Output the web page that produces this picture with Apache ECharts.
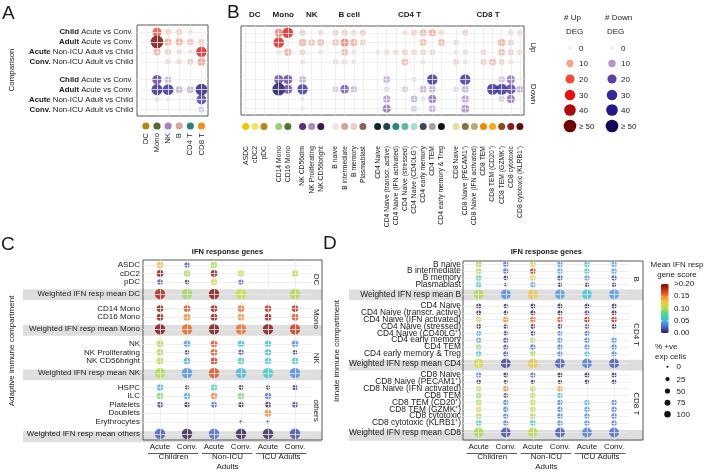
<!DOCTYPE html>
<html><head><meta charset="utf-8">
<script src="https://cdn.jsdelivr.net/npm/echarts@6/dist/echarts.min.js"></script>
<style>html,body{margin:0;padding:0;background:#fff}#c{width:708px;height:472px}</style>
</head><body><div id="c"></div>
<script>
// ---------------- DATA ----------------
// Panel A
const aCellTypes = ['DC','Mono','NK','B','CD4 T','CD8 T'];
const aCellColors = ['#b38a12','#4b6f2c','#a582c4','#d6a79f','#2b8173','#f39112'];
const aRowBold = ['Child','Adult','Acute','Conv.'];
const aRowRest = [' Acute vs Conv.',' Acute vs Conv.',' Non-ICU Adult vs Child',' Non-ICU Adult vs Child'];
const aUp = [
  [0,20,5,5,2,0],
  [0,50,10,10,7,5],
  [0,10,5,3,2,30],
  [0,0,3,3,5,12]];
const aDown = [
  [0,22,7,0,0,0],
  [0,35,32,8,8,42],
  [0,2,1,0,0,25],
  [0,0,0,0,0,5]];
// Panel B
const bGroups = ['DC','Mono','NK','B cell','CD4 T','CD8 T'];
const bCellTypes = ['ASDC','cDC2','pDC','CD14 Mono','CD16 Mono','NK CD56dim','NK Proliferating','NK CD56bright',
  'B naive','B intermediate','B memory','Plasmablast','CD4 Naive','CD4 Naive (transcr. active)','CD4 Naive (IFN activated)',
  'CD4 Naive (stressed)','CD4 Naive (CD40LG\u207A)','CD4 early memory','CD4 TEM','CD4 early memory & Treg','CD8 Naive',
  'CD8 Naive (PECAM1\u207A)','CD8 Naive (IFN activated)','CD8 TEM','CD8 TEM (CD20\u207A)','CD8 TEM (GZMK\u207A)','CD8 cytotoxic','CD8 cytotoxic (KLRB1\u207A)'];
const bGroupOf = [0,0,0,1,1,2,2,2,3,3,3,3,4,4,4,4,4,4,4,4,5,5,5,5,5,5,5,5];
const bCellColors = ['#f6c400','#f7de6a','#b8880e','#9ccf72','#4b7a2e','#5b2b80','#a98ac8','#3b1a4a',
  '#f5e6e6','#d2a39a','#e8cfca','#8f6259','#0f2727','#1d4747','#2a877a','#62b6a6','#a8dfcf','#3f4750','#a2a29b','#111111',
  '#e9dca0','#8b7042','#b9a972','#f08a00','#f7a91a','#8b4a12','#8f1818','#5a0a0a'];
const bUp = [
  [0,0,0,15,30,5,0,3,5,5,3,5,0,0,0,2,5,8,10,3,0,5,0,0,0,0,3,4],
  [0,0,0,30,0,10,7,8,7,15,10,5,0,0,0,0,0,8,0,8,3,0,0,0,0,10,5,0],
  [0,0,0,2,10,5,0,2,0,8,2,0,2,3,3,5,4,4,4,0,2,3,0,4,0,8,5,3],
  [0,0,0,0,0,2,0,0,3,3,2,0,0,0,0,8,0,2,0,0,4,2,0,5,8,4,2,0]];
const bDown = [
  [0,0,0,20,20,8,0,0,0,0,0,0,0,8,0,0,2,0,30,0,0,30,0,0,0,6,15,0],
  [0,0,0,50,20,30,0,0,5,18,7,0,0,3,0,5,0,8,8,0,3,8,0,0,35,35,25,8],
  [0,0,0,0,0,1,0,0,0,0,0,0,0,10,0,0,8,2,15,0,0,10,0,0,0,5,15,0],
  [0,0,0,0,0,1,0,0,0,0,0,0,0,15,0,0,5,0,8,0,0,12,0,0,0,0,0,0]];
const degStrips = ['Up','Down'];
const degLegendValues = [0,10,20,30,40,50];
const degLegendLabels = ['0','10','20','30','40','\u2265 50'];
// Panels C & D
const ifnColumns = ['Acute','Conv.','Acute','Conv.','Acute','Conv.'];
const ifnGroups = ['Children','Non-ICU\nAdults','ICU Adults'];
const cFacets = ['DC','Mono','NK','others'];
const cFacetRows = [['ASDC','cDC2','pDC'],['CD14 Mono','CD16 Mono'],['NK','NK Proliferating','NK CD56bright'],
  ['HSPC','ILC','Platelets','Doublets','Erythrocytes']];
const cWeightedNames = ['DC','Mono','NK','others'];
const cScore = [
  [0.132,0.018,0.100,null,null,null],
  [0.195,0.100,0.195,0.112,null,0.104],
  [0.015,0.003,0.120,0.022,null,null],
  [0.186,0.095,0.197,0.112,null,0.104],
  [0.195,0.168,0.195,0.158,0.182,0.180],
  [0.195,0.150,0.196,0.148,0.195,0.168],
  [0.198,0.160,0.200,0.156,0.198,0.175],
  [0.102,0.038,0.165,0.052,0.058,0.036],
  [0.100,0.006,0.165,0.018,0.054,0.004],
  [0.104,0.045,0.180,0.062,0.058,0.062],
  [0.104,0.038,0.165,0.052,0.060,0.036],
  [0.050,0.003,0.070,0.003,0.003,0.003],
  [0.088,0.045,0.150,0.085,0.028,null],
  [0.012,0.004,0.025,0.004,0.006,0.014],
  [null,null,null,null,0.150,null],
  [null,null,null,0.003,0.003,null],
  [0.020,0.002,0.025,0.002,0.003,0.016]];
const cPct = [
  [85,40,75,null,null,null],
  [85,75,85,75,null,75],
  [45,25,80,40,null,null],
  [100,100,100,100,null,100],
  [85,85,85,85,85,85],
  [85,85,85,85,85,85],
  [100,100,100,100,100,100],
  [85,80,85,80,80,80],
  [85,30,85,45,80,30],
  [85,80,85,80,80,80],
  [100,100,100,100,100,100],
  [75,20,75,30,20,35],
  [80,75,80,80,75,null],
  [50,40,50,40,50,50],
  [null,null,null,null,85,null],
  [null,null,null,5,5,null],
  [100,100,100,100,100,100]];
const dFacets = ['B','CD4 T','CD8 T'];
const dFacetRows = [['B naive','B intermediate','B memory','Plasmablast'],
  ['CD4 Naive','CD4 Naive (transcr. active)','CD4 Naive (IFN activated)','CD4 Naive (stressed)','CD4 Naive (CD40LG\u207A)','CD4 early memory','CD4 TEM','CD4 early memory & Treg'],
  ['CD8 Naive','CD8 Naive (PECAM1\u207A)','CD8 Naive (IFN activated)','CD8 TEM','CD8 TEM (CD20\u207A)','CD8 TEM (GZMK\u207A)','CD8 cytotoxic','CD8 cytotoxic (KLRB1\u207A)']];
const dWeightedNames = ['B','CD4','CD8'];
const dScore = [
  [0.100,0.030,0.125,0.040,0.055,0.045],
  [0.100,0.024,0.175,0.045,0.060,0.040],
  [0.075,0.004,0.125,0.015,0.035,0.015],
  [0.055,0.003,0.045,0.003,0.003,0.003],
  [0.100,0.035,0.130,0.040,0.055,0.040],
  [0.002,0.002,0.002,0.002,0.004,0.002],
  [0.002,0.002,0.002,0.003,0.012,0.002],
  [0.120,0.150,0.160,0.165,0.180,0.180],
  [0.002,0.002,0.002,0.004,0.015,0.002],
  [0.045,0.004,0.004,0.030,0.020,null],
  [0.040,0.015,0.100,0.035,0.030,0.035],
  [0.095,0.016,0.028,0.030,0.035,0.030],
  [0.055,0.016,0.100,0.030,0.054,0.030],
  [0.115,0.012,0.130,0.020,0.030,0.018],
  [0.035,0.003,0.025,0.002,0.002,0.002],
  [0.004,0.002,0.003,0.002,0.002,0.002],
  [0.110,0.150,0.100,0.145,null,null],
  [0.090,0.010,0.100,0.060,null,null],
  [0.100,0.030,0.110,0.030,0.050,0.030],
  [0.125,0.030,0.125,0.030,0.040,0.030],
  [0.100,0.030,0.100,0.030,0.035,0.030],
  [0.070,0.030,0.070,0.035,0.035,0.030],
  [0.100,0.015,0.105,0.018,0.030,0.025]];
const dPct = [
  [70,60,70,65,65,65],
  [70,60,70,65,65,65],
  [65,35,65,55,55,55],
  [60,10,55,30,30,30],
  [100,100,100,100,100,100],
  [45,30,45,45,45,45],
  [45,30,45,45,45,45],
  [65,65,65,65,65,65],
  [40,30,40,40,40,40],
  [50,30,35,45,45,null],
  [55,50,60,55,55,55],
  [60,50,60,55,55,55],
  [60,50,60,55,55,55],
  [100,100,100,100,100,100],
  [55,40,50,45,45,45],
  [35,25,30,30,35,35],
  [65,65,65,65,null,null],
  [60,40,60,55,null,null],
  [65,55,65,60,60,60],
  [65,55,65,60,60,60],
  [65,55,65,60,60,60],
  [65,55,65,60,60,60],
  [100,100,100,100,100,100]];
const ifnTickValues = [0,0.05,0.10,0.15,0.20];
const ifnTickLabels = ['0.00','0.05','0.10','0.15','>0.20'];
const pctLegendValues = [0,25,50,75,100];
const pctLegendLabels = ['0','25','50','75','100'];

// ---------------- STYLE HELPERS ----------------
const FF = "'Liberation Sans', Arial, Helvetica, sans-serif";
const TXT = '#1a1a1a';
const upStops = [[0,'#e4e4e4'],[10,'#f7a28c'],[20,'#f24a34'],[30,'#ec1010'],[40,'#b00a0a'],[50,'#6e0202']];
const downStops = [[0,'#e4e4ea'],[10,'#b592d0'],[20,'#5e3fa6'],[30,'#31299a'],[40,'#22198a'],[50,'#140a5a']];
const ifnStops = [[0,'#2f1540'],[0.0143,'#4145a8'],[0.0286,'#4872e0'],[0.0429,'#47a0ec'],[0.0571,'#38c4d2'],
  [0.0714,'#40d2a8'],[0.0857,'#74d86e'],[0.1,'#a8da44'],[0.1143,'#d2dc3a'],[0.1286,'#f2c43c'],[0.1429,'#f99a30'],
  [0.1571,'#ef651c'],[0.1714,'#d63c12'],[0.1857,'#b01c10'],[0.2,'#7c0a0c']];
function hex2rgb(h){h=h.replace('#','');return [parseInt(h.substr(0,2),16),parseInt(h.substr(2,2),16),parseInt(h.substr(4,2),16)];}
function interp(stops,v){
  if(v<=stops[0][0]) return stops[0][1];
  for(let i=1;i<stops.length;i++){
    if(v<=stops[i][0]){
      const t=(v-stops[i-1][0])/(stops[i][0]-stops[i-1][0]);
      const a=hex2rgb(stops[i-1][1]), b=hex2rgb(stops[i][1]);
      return 'rgb('+a.map((x,k)=>Math.round(x+(b[k]-x)*t)).join(',')+')';
    }
  }
  return stops[stops.length-1][1];
}
const degSize = v => 3 + 9.7*Math.sqrt(Math.min(v,50)/50);
const cSize = (p,w) => w ? 10.5 : 2 + 5.2*Math.sqrt(p/100);
const dSize = (p,w) => w ? 9.8 : 2 + 4.5*Math.sqrt(p/100);

// positions
const degRowPos = [0,1,2,3,4.8,5.8,6.8,7.8];
const bPos = bCellTypes.map((_,i)=> i + bGroupOf[i]*0.62);
const bGroupCenters = bGroups.map((_,g)=>{const p=bPos.filter((_,i)=>bGroupOf[i]===g);return (p[0]+p[p.length-1])/2;});
function facetLayout(facetRows, weightedNames){
  const pos=[],labels=[],weighted=[],centers=[],wpos=[];let p=0;
  facetRows.forEach((rows,fi)=>{
    const start=p;
    rows.forEach(r=>{pos.push(p);labels.push(r);weighted.push(false);p+=1;});
    const w=p-1+1.4; pos.push(w); labels.push('Weighted IFN resp mean '+weightedNames[fi]); weighted.push(true); wpos.push(w);
    centers.push((start+w)/2); p=w+1.7;
  });
  return {pos,labels,weighted,centers,wpos};
}
const cL = facetLayout(cFacetRows,cWeightedNames);
const dL = facetLayout(dFacetRows,dWeightedNames);
function findIdx(arr,v){let b=0,bd=1e9;arr.forEach((p,i)=>{const d=Math.abs(p-v);if(d<bd){bd=d;b=i;}});return b;}

// ---------------- SERIES DATA ----------------
function degData(mat, rowOff, xpos){
  const out=[];
  mat.forEach((row,r)=>row.forEach((v,c)=>{ if(v>0) out.push([xpos(c), degRowPos[rowOff+r], v]); }));
  return out;
}
function ifnData(score,pct,L){
  const out=[];
  score.forEach((row,r)=>row.forEach((s,c)=>{ if(s!==null) out.push([c, L.pos[r], s, pct[r][c], L.weighted[r]?1:0]); }));
  return out;
}
const axBase = {axisLine:{show:false},axisTick:{show:false},splitLine:{show:false},axisLabel:{show:false}};
function ax(o){const a=Object.assign({type:'value'},JSON.parse(JSON.stringify(axBase)),o);
  if(a.axisLabel){a.axisLabel.showMinLabel=true;a.axisLabel.showMaxLabel=true;a.axisLabel.hideOverlap=false;}return a;}
const GL = '#ebebeb';
function gridLineSeries(xi,yi,lines){
  return {type:'scatter',xAxisIndex:xi,yAxisIndex:yi,data:[[0,0]],symbolSize:0,itemStyle:{opacity:0},silent:true,z:1,
    markLine:{silent:true,symbol:['none','none'],label:{show:false},animation:false,lineStyle:{color:GL,width:0.8,type:'solid'},emphasis:{disabled:true},data:lines}};
}
const aX = c=>c;
const aLines=[...aCellTypes.map((_,i)=>({xAxis:i})),...degRowPos.map(p=>({yAxis:p}))];
const bLines=[...bPos.map(p=>({xAxis:p})),...degRowPos.map(p=>({yAxis:p}))];
const C_XMIN=-0.63,C_XMAX=6.0,C_PR=5.63, D_XMIN=-0.58,D_XMAX=6.07,D_PR=5.58;
const cLines=[...ifnColumns.map((_,i)=>({xAxis:i})),...cL.pos.map(p=>[{coord:[C_XMIN,p]},{coord:[C_PR,p]}])];
const dLines=[...ifnColumns.map((_,i)=>({xAxis:i})),...dL.pos.map(p=>[{coord:[D_XMIN,p]},{coord:[D_PR,p]}])];
// D row labels split over two axes (alternate rows) so that ECharts never drops one of the tightly packed labels
const dPosEven = dL.pos.filter((_,i)=>i%2===0), dPosOdd = dL.pos.filter((_,i)=>i%2===1);

const labStyle = {color:TXT,fontFamily:FF};
function dLabelAxis(vals){
  return ax({gridIndex:5,min:-0.47,max:25.7,inverse:true,position:'left',offset:0,z:10,
    axisLabel:Object.assign({show:true,customValues:vals,formatter:v=>dL.labels[findIdx(dL.pos,v)],margin:2,fontSize:8.4},labStyle)});
}
const option = {
  animation:false,
  backgroundColor:'#fff',
  grid:[
    {left:137,top:25,width:71,height:91,show:true,borderColor:'#595959',borderWidth:1,z:5},
    {left:241,top:26,width:283,height:89,show:true,borderColor:'#595959',borderWidth:1,z:5},
    {left:23,top:260,width:299,height:183,show:false},
    {left:143,top:260,width:179,height:183,show:true,borderColor:'#595959',borderWidth:1,z:5},
    {left:349,top:261,width:294,height:182,show:false},
    {left:463,top:261,width:180,height:182,show:true,borderColor:'#595959',borderWidth:1,z:5}
  ],
  xAxis:[
    ax({gridIndex:0,min:-0.8,max:5.59,position:'bottom',axisLabel:Object.assign({show:true,customValues:aCellTypes.map((_,i)=>i),formatter:v=>aCellTypes[Math.round(v)],rotate:90,margin:17,fontSize:7.8},labStyle)}),
    ax({gridIndex:1,min:-0.52,max:30.55,position:'bottom',axisLabel:Object.assign({show:true,customValues:bPos,formatter:v=>bCellTypes[findIdx(bPos,v)],rotate:90,margin:31,fontSize:6.8},labStyle)}),
    ax({gridIndex:1,min:-0.52,max:30.55,position:'top',axisLabel:Object.assign({show:true,customValues:bGroupCenters,formatter:v=>bGroups[findIdx(bGroupCenters,v)],margin:7,fontSize:8,fontWeight:'bold'},labStyle)}),
    ax({gridIndex:2,min:0,max:1}),
    ax({gridIndex:3,min:C_XMIN,max:C_XMAX,position:'bottom',axisLabel:Object.assign({show:true,customValues:[0,1,2,3,4,5],formatter:v=>ifnColumns[Math.round(v)],margin:3,fontSize:8},labStyle)}),
    ax({gridIndex:3,min:C_XMIN,max:C_XMAX,position:'bottom',axisLabel:Object.assign({show:true,customValues:[0.5,2.5,4.5],formatter:v=>ifnGroups[Math.round((v-0.5)/2)],margin:12,fontSize:8,lineHeight:10},labStyle)}),
    ax({gridIndex:4,min:0,max:1}),
    ax({gridIndex:5,min:D_XMIN,max:D_XMAX,position:'bottom',axisLabel:Object.assign({show:true,customValues:[0,1,2,3,4,5],formatter:v=>ifnColumns[Math.round(v)],margin:3,fontSize:8},labStyle)}),
    ax({gridIndex:5,min:D_XMIN,max:D_XMAX,position:'bottom',axisLabel:Object.assign({show:true,customValues:[0.5,2.5,4.5],formatter:v=>ifnGroups[Math.round((v-0.5)/2)],margin:12,fontSize:8,lineHeight:10},labStyle)})
  ],
  yAxis:[
    ax({gridIndex:0,min:-0.7,max:8.45,inverse:true,axisLabel:{show:true,customValues:degRowPos,margin:4,
      formatter:v=>{const r=findIdx(degRowPos,v)%4;return '{b|'+aRowBold[r]+'}{n|'+aRowRest[r]+'}';},
      rich:{b:{fontWeight:'bold',fontSize:7.8,fontFamily:FF,color:TXT},n:{fontSize:7.8,fontFamily:FF,color:TXT}}}}),
    ax({gridIndex:1,min:-0.7,max:8.45,inverse:true}),
    ax({gridIndex:2,min:-0.57,max:20.42,inverse:true}),
    ax({gridIndex:3,min:-0.57,max:20.42,inverse:true,z:10,axisLabel:Object.assign({show:true,customValues:cL.pos,formatter:v=>cL.labels[findIdx(cL.pos,v)],margin:3,fontSize:8},labStyle)}),
    ax({gridIndex:4,min:-0.47,max:25.7,inverse:true}),
    dLabelAxis(dPosEven),
    dLabelAxis(dPosOdd)
  ],
  series:[
    gridLineSeries(0,0,aLines),
    {type:'scatter',xAxisIndex:0,yAxisIndex:0,z:3,data:degData(aUp,0,aX),symbolSize:v=>degSize(v[2]),itemStyle:{color:p=>interp(upStops,p.value[2])},silent:true},
    {type:'scatter',xAxisIndex:0,yAxisIndex:0,z:3,data:degData(aDown,4,aX),symbolSize:v=>degSize(v[2]),itemStyle:{color:p=>interp(downStops,p.value[2])},silent:true},
    gridLineSeries(1,1,bLines),
    {type:'scatter',xAxisIndex:1,yAxisIndex:1,z:3,data:degData(bUp,0,c=>bPos[c]),symbolSize:v=>degSize(v[2]),itemStyle:{color:p=>interp(upStops,p.value[2])},silent:true},
    {type:'scatter',xAxisIndex:1,yAxisIndex:1,z:3,data:degData(bDown,4,c=>bPos[c]),symbolSize:v=>degSize(v[2]),itemStyle:{color:p=>interp(downStops,p.value[2])},silent:true},
    {type:'scatter',xAxisIndex:3,yAxisIndex:2,data:[[0,0]],symbolSize:0,itemStyle:{opacity:0},silent:true,z:2,
      markArea:{silent:true,itemStyle:{color:'#dedede'},label:{show:false},data:cL.wpos.map(p=>[{yAxis:p-0.62},{yAxis:p+0.62}])}},
    gridLineSeries(4,3,cLines),
    {type:'scatter',xAxisIndex:4,yAxisIndex:3,z:3,data:ifnData(cScore,cPct,cL),symbolSize:v=>cSize(v[3],v[4]),itemStyle:{color:p=>interp(ifnStops,p.value[2])},silent:true},
    {type:'scatter',xAxisIndex:6,yAxisIndex:4,data:[[0,0]],symbolSize:0,itemStyle:{opacity:0},silent:true,z:2,
      markArea:{silent:true,itemStyle:{color:'#dedede'},label:{show:false},data:dL.wpos.map(p=>[{yAxis:p-0.78},{yAxis:p+0.78}])}},
    gridLineSeries(7,5,dLines),
    {type:'scatter',xAxisIndex:7,yAxisIndex:5,z:3,data:ifnData(dScore,dPct,dL),symbolSize:v=>dSize(v[3],v[4]),itemStyle:{color:p=>interp(ifnStops,p.value[2])},silent:true}
  ]
};
const chart = echarts.init(document.getElementById('c'),null,{renderer:'canvas',width:708,height:472});
chart.setOption(option);

// ---------------- GRAPHIC (annotations, legends) ----------------
const G=[];
function txt(x,y,text,o){o=o||{};return {type:'text',x:x,y:y,rotation:o.rot||0,z:100,silent:true,
  style:{text:text,fill:o.color||TXT,fontSize:o.size||8,fontFamily:FF,fontWeight:o.weight||'normal',
    align:o.align||'left',verticalAlign:o.va||'middle',lineHeight:o.lh||undefined}};}
function dot(x,y,d,color){return {type:'circle',z:100,silent:true,shape:{cx:x,cy:y,r:d/2},style:{fill:color}};}
function px(gi,x,y){return chart.convertToPixel({gridIndex:gi},[x,y]);}
// panel letters
G.push(txt(2,14,'A',{size:19}),txt(227,13,'B',{size:19}),txt(1,245,'C',{size:19}),txt(323,244,'D',{size:19}));
// axis titles
G.push(txt(12,70,'Comparison',{rot:Math.PI/2,align:'center',size:8}));
G.push(txt(12,351,'Adaptive immune compartment',{rot:Math.PI/2,align:'center',size:8}));
G.push(txt(337,351,'Innate immune compartment',{rot:Math.PI/2,align:'center',size:8}));
// cell type colour dots
aCellTypes.forEach((_,i)=>{const p=px(0,i,0);G.push(dot(p[0],126,7.2,aCellColors[i]));});
bCellTypes.forEach((_,i)=>{const p=px(1,bPos[i],0);G.push(dot(p[0],126.5,7,bCellColors[i]));});
// B strips
G.push(txt(533,px(1,0,1.5)[1],degStrips[0],{rot:-Math.PI/2,align:'center',size:8}));
G.push(txt(533,px(1,0,6.3)[1],degStrips[1],{rot:-Math.PI/2,align:'center',size:8}));
// C / D strips and titles
cFacets.forEach((f,i)=>G.push(txt(316.5,px(3,0,cL.centers[i])[1],f,{rot:-Math.PI/2,align:'center',size:8})));
dFacets.forEach((f,i)=>G.push(txt(636,px(5,0,dL.centers[i])[1],f,{rot:-Math.PI/2,align:'center',size:8})));
G.push(txt(px(3,2.5,0)[0],252,'IFN response genes',{align:'center',weight:'bold',size:7.5}));
G.push(txt(px(5,2.5,0)[0],252,'IFN response genes',{align:'center',weight:'bold',size:7.5}));
// underlines for groups
[3,5].forEach(gi=>{[0,2,4].forEach(c=>{const a=px(gi,c-0.45,0)[0],b=px(gi,c+1.42,0)[0];
  G.push({type:'line',z:100,silent:true,shape:{x1:a,y1:453.5,x2:b,y2:453.5},style:{stroke:'#333',lineWidth:0.8}});});});
// DEG legends
const legY=[48,63.5,79,95,110,126];
G.push(txt(564,18,'# Up',{size:8}),txt(566,31.5,'DEG',{size:8}));
G.push(txt(605,18,'# Down',{size:8}),txt(607,31.5,'DEG',{size:8}));
degLegendValues.forEach((v,i)=>{
  G.push(dot(570,legY[i],degSize(v),interp(upStops,v)),txt(579,legY[i]+0.5,degLegendLabels[i],{size:8}));
  G.push(dot(612,legY[i],degSize(v),interp(downStops,v)),txt(621,legY[i]+0.5,degLegendLabels[i],{size:8}));
});
// IFN colour bar
const cbTop=284,cbBot=333,cbX=661,cbW=7.5;
G.push(txt(677,265,'Mean IFN resp',{align:'center',size:8}),txt(677,274.5,'gene score',{align:'center',size:8}));
G.push({type:'rect',z:100,silent:true,shape:{x:cbX,y:cbTop,width:cbW,height:cbBot-cbTop},
  style:{fill:new echarts.graphic.LinearGradient(0,0,0,1,ifnStops.slice().reverse().map(s=>({offset:1-s[0]/0.2,color:s[1]})))}});
ifnTickValues.forEach((v,i)=>{const y=cbBot-v/0.2*(cbBot-cbTop);
  G.push(txt(674,y,ifnTickLabels[i],{size:8}));
  G.push({type:'line',z:101,silent:true,shape:{x1:cbX,y1:y,x2:cbX+1.6,y2:y},style:{stroke:'#fff',lineWidth:0.8}});
  G.push({type:'line',z:101,silent:true,shape:{x1:cbX+cbW-1.6,y1:y,x2:cbX+cbW,y2:y},style:{stroke:'#fff',lineWidth:0.8}});
});
G.push(txt(655,347,'% +ve',{size:8}),txt(655,357,'exp cells',{size:8}));
const pY=[366.7,379,391,402.7,414.3];
pctLegendValues.forEach((v,i)=>{G.push(dot(667.5,pY[i],dSize(v,false),'#111'),txt(676.5,pY[i]+0.5,pctLegendLabels[i],{size:8}));});
chart.setOption({graphic:{elements:G}});
</script></body></html>
